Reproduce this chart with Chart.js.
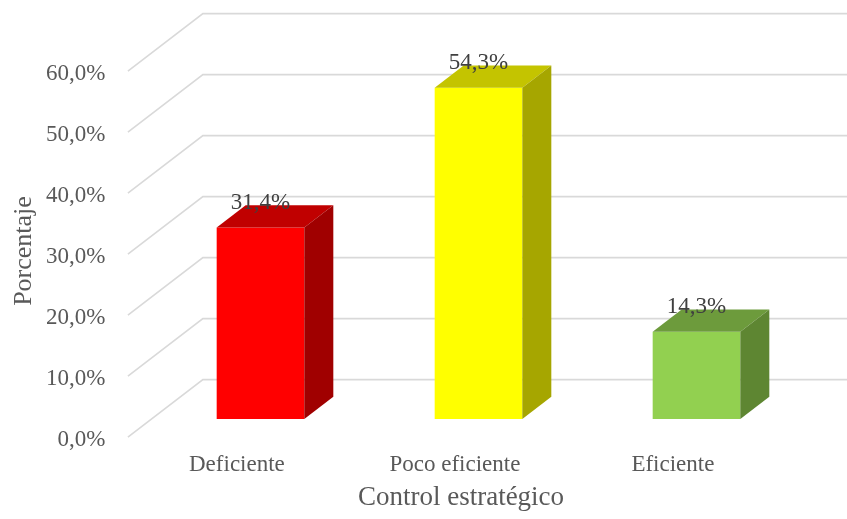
<!DOCTYPE html>
<html>
<head>
<meta charset="utf-8">
<script src="https://cdn.jsdelivr.net/npm/chart.js@4/dist/chart.umd.min.js"></script>
<style>
  html, body { margin: 0; padding: 0; background: #ffffff; }
  #wrap { width: 847px; height: 519px; }
</style>
</head>
<body>
<div id="wrap"><canvas id="chart" width="847" height="519"></canvas></div>
<script>
// Control estratégico: share of each level
const categories = ['Deficiente', 'Poco eficiente', 'Eficiente'];
const percentages = [31.4, 54.3, 14.3];
const valueLabels = ['31,4%', '54,3%', '14,3%'];
const yTickLabels = ['0,0%', '10,0%', '20,0%', '30,0%', '40,0%', '50,0%', '60,0%'];
const frontColors = ['#FF0000', '#FFFF00', '#92D050'];
const topColors = ['#C00000', '#C4C400', '#6D9B3C'];
const sideColors = ['#A00000', '#A6A600', '#5E8632'];
const xTitle = 'Control estratégico';
const yTitle = 'Porcentaje';

const SERIF = '"Liberation Serif", "Times New Roman", serif';

// oblique projection used for the depth of the floor, walls and boxes
const SLOPE = 0.766;          // vertical rise per horizontal px of depth
const FRONT_DX = -23.6;       // front edge of the floor, relative to the bar faces
const BACK_DX = 51.4;         // back wall, relative to the bar faces
const BAR_DEPTH = 29;         // depth of each box
const rise = dx => -dx * SLOPE;

const box3d = {
  id: 'box3d',
  beforeDatasetsDraw(chart) {
    const { ctx, chartArea, scales: { y } } = chart;
    ctx.save();
    ctx.strokeStyle = '#D9D9D9';
    ctx.lineWidth = 1.6;
    y.ticks.forEach(t => {
      const py = y.getPixelForValue(t.value);
      const fx = chartArea.left + FRONT_DX, fy = py + rise(FRONT_DX);
      const bx = chartArea.left + BACK_DX, by = py + rise(BACK_DX);
      ctx.beginPath();
      ctx.moveTo(fx, fy);
      ctx.lineTo(bx, by);
      ctx.lineTo(chart.width + 2, by);
      ctx.stroke();
    });
    ctx.restore();
  },
  afterDatasetsDraw(chart) {
    const { ctx } = chart;
    const meta = chart.getDatasetMeta(0);
    const ddx = BAR_DEPTH, ddy = rise(BAR_DEPTH);
    ctx.save();
    meta.data.forEach((bar, i) => {
      const { x, y, base, width } = bar.getProps(['x', 'y', 'base', 'width'], true);
      const l = x - width / 2, r = x + width / 2;
      // top face
      ctx.fillStyle = topColors[i];
      ctx.beginPath();
      ctx.moveTo(l, y);
      ctx.lineTo(l + ddx, y + ddy);
      ctx.lineTo(r + ddx, y + ddy);
      ctx.lineTo(r, y);
      ctx.closePath();
      ctx.fill();
      // right side face
      ctx.fillStyle = sideColors[i];
      ctx.beginPath();
      ctx.moveTo(r, y);
      ctx.lineTo(r + ddx, y + ddy);
      ctx.lineTo(r + ddx, base + ddy);
      ctx.lineTo(r, base);
      ctx.closePath();
      ctx.fill();
    });
    // value labels above each box
    ctx.fillStyle = '#404040';
    ctx.font = '23px ' + SERIF;
    ctx.textAlign = 'center';
    ctx.textBaseline = 'middle';
    meta.data.forEach((bar, i) => {
      const { x, y } = bar.getProps(['x', 'y'], true);
      ctx.fillText(valueLabels[i], x, y - 24.5);
    });
    ctx.restore();
  },
  afterDraw(chart) {
    const { ctx } = chart;
    ctx.save();
    ctx.fillStyle = '#595959';
    ctx.textAlign = 'center';
    ctx.textBaseline = 'middle';
    ctx.font = '27px ' + SERIF;
    ctx.fillText(xTitle, 461, 498);
    ctx.font = '26px ' + SERIF;
    ctx.translate(24, 251);
    ctx.rotate(-Math.PI / 2);
    ctx.fillText(yTitle, 0, 0);
    ctx.restore();
  }
};

new Chart(document.getElementById('chart'), {
  type: 'bar',
  data: {
    labels: categories,
    datasets: [{
      data: percentages,
      backgroundColor: frontColors,
      borderWidth: 0,
      barPercentage: 0.402,
      categoryPercentage: 1.0
    }]
  },
  options: {
    responsive: false,
    devicePixelRatio: 1,
    animation: false,
    layout: { padding: { top: 53, right: 41.5, left: 0, bottom: 0 } },
    plugins: { legend: { display: false }, tooltip: { enabled: false } },
    scales: {
      x: {
        grid: { display: false, drawTicks: false },
        border: { display: false },
        ticks: {
          color: '#595959',
          font: { family: SERIF, size: 23 },
          padding: 32,
          labelOffset: FRONT_DX,
          maxRotation: 0
        },
        afterFit(scale) {
          scale.height = 100;
          scale.paddingLeft = 0;
          scale.paddingRight = 0;
        }
      },
      y: {
        min: 0,
        max: 60,
        grid: { display: false, drawTicks: false },
        border: { display: false },
        ticks: {
          stepSize: 10,
          color: '#595959',
          font: { family: SERIF, size: 23 },
          padding: 46,
          labelOffset: rise(FRONT_DX) + 2.5,
          callback: (v, i) => yTickLabels[i]
        },
        afterFit(scale) {
          scale.width = 151.5;
          scale.paddingTop = 0;
          scale.paddingBottom = 0;
        }
      }
    }
  },
  plugins: [box3d]
});
</script>
</body>
</html>
